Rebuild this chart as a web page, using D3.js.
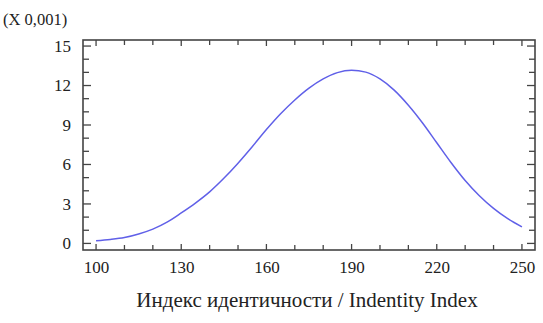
<!DOCTYPE html>
<html><head><meta charset="utf-8">
<script src="https://cdn.jsdelivr.net/npm/d3@7/dist/d3.min.js"></script>
<style>
@font-face{font-family:"ChartSerif";src:local("Liberation Serif"),local("LiberationSerif"),local("Tinos"),local("Nimbus Roman");}
body{margin:0;background:#fff}
svg text{font-family:"Liberation Serif",ChartSerif,Tinos,"Nimbus Roman",FreeSerif !important}
</style>
</head><body>
<script>
const identityIndex = [100,105,110,115,120,125,130,135,140,145,150,155,160,165,170,175,180,185,190,195,200,205,210,215,220,225,230,235,240,245,250];
const density = [0.20,0.30,0.45,0.72,1.09,1.62,2.32,3.07,3.92,4.95,6.10,7.35,8.65,9.85,10.90,11.80,12.50,12.98,13.16,13.02,12.50,11.65,10.50,9.15,7.65,6.15,4.78,3.62,2.66,1.88,1.26];
const xTickLabels = [100,130,160,190,220,250];
const yTickLabels = [0,3,6,9,12,15];
const xLabel = "Индекс идентичности / Indentity Index";
const scaleLabel = "(X 0,001)";

const W=543,H=323;
const L=83,R=535,T=40,B=250;
const svg=d3.select("body").append("svg").attr("width",W).attr("height",H).style("display","block");
const x=d3.scaleLinear().domain([95.4,254.6]).range([L,R]);
const y=d3.scaleLinear().domain([-0.5,15.46]).range([B,T]);
const axisColor="#444";

const minorX=d3.range(100,251,10), minorY=d3.range(0,16,1);
const gb=svg.append("g").attr("transform",`translate(0,${B})`)
  .call(d3.axisBottom(x).tickValues(xTickLabels).tickSize(0).tickPadding(11).tickFormat(d3.format("d")));
gb.attr("font-family",null).attr("font-size",null);
gb.select(".domain").remove();
gb.selectAll("text").attr("font-size",17).attr("fill","#222");
const gl=svg.append("g").attr("transform",`translate(${L},0)`)
  .call(d3.axisLeft(y).tickValues(yTickLabels).tickSize(0).tickPadding(12).tickFormat(d3.format("d")));
gl.attr("font-family",null).attr("font-size",null);
gl.select(".domain").remove();
gl.selectAll("text").attr("font-size",17).attr("fill","#222");

const tk=svg.append("g").attr("stroke",axisColor).attr("stroke-width",1.3);
minorX.forEach(v=>{
  const len = xTickLabels.includes(v)?6:5;
  tk.append("line").attr("x1",x(v)).attr("x2",x(v)).attr("y1",B).attr("y2",B-len);
  tk.append("line").attr("x1",x(v)).attr("x2",x(v)).attr("y1",T).attr("y2",T+len);
});
minorY.forEach(v=>{
  const len = yTickLabels.includes(v)?8:6;
  tk.append("line").attr("y1",y(v)).attr("y2",y(v)).attr("x1",L).attr("x2",L+len);
  tk.append("line").attr("y1",y(v)).attr("y2",y(v)).attr("x1",R).attr("x2",R-len);
});
svg.append("rect").attr("x",L).attr("y",T).attr("width",R-L).attr("height",B-T)
  .attr("fill","none").attr("stroke",axisColor).attr("stroke-width",1.6);

const data=identityIndex.map((v,i)=>({x:v,y:density[i]}));
svg.append("path").datum(data)
  .attr("d",d3.line().x(d=>x(d.x)).y(d=>y(d.y)).curve(d3.curveMonotoneX))
  .attr("fill","none").attr("stroke","#6060e8").attr("stroke-width",1.5);

svg.append("text").attr("x",3).attr("y",25).attr("font-size",16.5).attr("fill","#222").text(scaleLabel);
svg.append("text").attr("x",(L+R)/2-2).attr("y",307).attr("text-anchor","middle").attr("font-size",21).attr("fill","#222").text(xLabel);
</script>
</body></html>
